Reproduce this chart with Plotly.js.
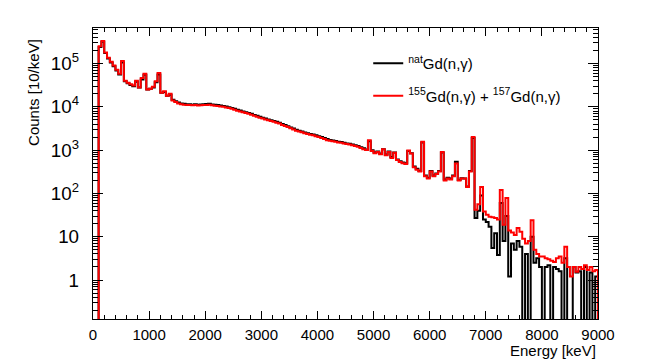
<!DOCTYPE html>
<html>
<head>
<meta charset="utf-8">
<script src="https://cdn.plot.ly/plotly-3.0.1.min.js"></script>
<style>
  html, body { margin: 0; padding: 0; background: #fff; }
  #chart { width: 664px; height: 363px; }
</style>
</head>
<body>
<div id="chart"></div>
<script>
// 50 keV bins starting at 0 keV, counts (0 = empty bin)
const binStart = 0
const binWidth = 50

const natGd = [
  0, 0, 2.4e5, 3.2e5, 1.75e5, 1.3e5, 1.05e5, 8.6e4, 6.9e4, 5.6e4,
  1.05e5, 3.9e4, 3.5e4, 3.2e4, 3.0e4, 3.8e4, 2.8e4, 4.3e4, 5.5e4, 2.5e4,
  2.6e4, 2.8e4, 3.7e4, 5.6e4, 2.1e4, 2.2e4, 1.8e4, 1.9e4, 1.45e4, 1.35e4,
  1.25e4, 1.2e4, 1.17e4, 1.15e4, 1.14e4, 1.12e4, 1.14e4, 1.12e4, 1.13e4, 1.15e4,
  1.16e4, 1.17e4, 1.13e4, 1.11e4, 1.1e4, 1.07e4, 1.05e4, 1.02e4, 9.8e3, 9.4e3,
  9.0e3, 8.5e3, 8.2e3, 7.8e3, 7.5e3, 7.2e3, 6.9e3, 6.5e3, 6.2e3, 5.9e3,
  5.6e3, 5.35e3, 5.1e3, 4.9e3, 4.7e3, 4.5e3, 4.3e3, 4.0e3, 3.8e3, 3.55e3,
  3.35e3, 3.15e3, 2.95e3, 2.8e3, 2.7e3, 2.55e3, 2.45e3, 2.35e3, 2.3e3, 2.2e3,
  2.1e3, 2.0e3, 1.9e3, 1.8e3, 1.72e3, 1.67e3, 1.62e3, 1.57e3, 1.53e3, 1.48e3,
  1.43e3, 1.4e3, 1.35e3, 1.3e3, 1.25e3, 1.17e3, 1.1e3, 1.04e3, 1.6e3, 990,
  880, 930, 830, 1050, 790, 930, 690, 880, 610, 550,
  520, 500, 960, 850, 420, 370, 330, 1500, 260, 230,
  330, 260, 290, 330, 880, 210, 230, 220, 260, 540,
  205, 225, 220, 145, 330, 1900, 27, 40, 90, 25,
  22, 17, 5.5, 12, 3.8, 60, 8, 30, 1.2, 7,
  5, 8, 5.9, 0, 4, 0, 10, 2.5, 3.2, 2,
  0, 2, 2.2, 0, 2, 1.8, 1.6, 0, 3.2, 0,
  0, 2, 1.5, 1.6, 0, 2, 0, 1.5, 0, 1.2,
  0
]

const gd155157 = [
  0, 0, 2.5e5, 3.3e5, 1.8e5, 1.35e5, 1.1e5, 9.0e4, 7.2e4, 5.8e4,
  1.15e5, 4.0e4, 3.6e4, 3.3e4, 3.1e4, 4.0e4, 2.8e4, 4.6e4, 5.8e4, 2.5e4,
  2.6e4, 2.9e4, 3.9e4, 6.0e4, 2.1e4, 2.3e4, 1.8e4, 2.0e4, 1.4e4, 1.3e4,
  1.2e4, 1.15e4, 1.12e4, 1.1e4, 1.1e4, 1.08e4, 1.1e4, 1.07e4, 1.08e4, 1.1e4,
  1.1e4, 1.12e4, 1.08e4, 1.06e4, 1.05e4, 1.02e4, 1.0e4, 9.7e3, 9.4e3, 9.0e3,
  8.6e3, 8.1e3, 7.8e3, 7.5e3, 7.2e3, 6.9e3, 6.6e3, 6.2e3, 5.9e3, 5.6e3,
  5.4e3, 5.1e3, 4.9e3, 4.7e3, 4.5e3, 4.3e3, 4.1e3, 3.8e3, 3.6e3, 3.4e3,
  3.2e3, 3.0e3, 2.8e3, 2.7e3, 2.6e3, 2.45e3, 2.35e3, 2.25e3, 2.2e3, 2.1e3,
  2.0e3, 1.9e3, 1.8e3, 1.7e3, 1.65e3, 1.6e3, 1.55e3, 1.5e3, 1.48e3, 1.42e3,
  1.38e3, 1.35e3, 1.3e3, 1.25e3, 1.2e3, 1.12e3, 1.05e3, 1.0e3, 1.7e3, 950,
  850, 900, 800, 1050, 760, 910, 660, 870, 590, 530,
  500, 480, 980, 830, 400, 350, 320, 1550, 250, 220,
  320, 250, 280, 320, 910, 200, 220, 210, 250, 490,
  200, 220, 220, 140, 320, 2000, 42, 56, 140, 38,
  32, 29, 28, 27, 25, 120, 19, 78, 14, 12.5,
  11, 16, 13, 9, 7, 8, 24, 5, 4, 3.5,
  3.5, 3.2, 3.0, 2.8, 2.6, 3.2, 3.5, 2.5, 5.9, 2,
  1.2, 2, 1.55, 2, 1.8, 2.2, 1.7, 2, 1.6, 1.7,
  0
]

const names = ['<sup>nat</sup>Gd(n,γ)', '<sup>155</sup>Gd(n,γ) + <sup>157</sup>Gd(n,γ)']
const colors = ['#000000', '#ff0000']

// empty bins drop below the log axis, like ROOT draws them
const floor = v => (v > 0 ? v : 1e-3)

const font = 'Liberation Sans, Arial, Helvetica, sans-serif'

const traces = [natGd, gd155157].map((ys, i) => ({
  x0: binStart + binWidth / 2,
  dx: binWidth,
  y: ys.map(floor),
  type: 'scatter',
  mode: 'lines',
  name: names[i],
  legendgroup: 'g' + i,
  line: { color: colors[i], width: 2, shape: 'hvh' }
}))

const layout = {
  width: 664,
  height: 363,
  margin: { l: 93, r: 66, t: 28, b: 44 },
  paper_bgcolor: '#fff',
  plot_bgcolor: '#fff',
  font: { family: font, size: 15, color: '#000' },
  showlegend: true,
  legend: {
    x: 0.545, y: 0.935, xanchor: 'left', yanchor: 'top',
    bgcolor: 'rgba(0,0,0,0)',
    font: { family: font, size: 15 },
    tracegroupgap: 10
  },
  xaxis: {
    range: [0, 9000],
    dtick: 1000,
    tick0: 0,
    ticks: 'inside',
    ticklen: 8,
    tickcolor: '#000',
    minor: { dtick: 200, ticks: 'inside', ticklen: 4, tickcolor: '#000', showgrid: false },
    showline: true,
    linecolor: '#000',
    linewidth: 1,
    mirror: 'ticks',
    showgrid: false,
    zeroline: false,
    ticklabelstandoff: 2,
    tickfont: { family: font, size: 15 }
  },
  yaxis: {
    type: 'log',
    range: [-0.9, 5.82],
    dtick: 1,
    exponentformat: 'power',
    ticks: 'inside',
    ticklen: 10,
    tickcolor: '#000',
    minor: { dtick: 'D1', ticks: 'inside', ticklen: 5, tickcolor: '#000', showgrid: false },
    showline: true,
    linecolor: '#000',
    linewidth: 1,
    mirror: 'ticks',
    showgrid: false,
    zeroline: false,
    ticklabelstandoff: 10,
    tickfont: { family: font, size: 15 }
  },
  annotations: [
    {
      text: 'Energy [keV]', xref: 'paper', yref: 'paper',
      x: 1, y: -0.108, xanchor: 'right', yanchor: 'middle',
      showarrow: false, font: { family: font, size: 15 }
    },
    {
      text: 'Counts [10/keV]', xref: 'paper', yref: 'paper',
      x: -0.119, y: 0.78, xanchor: 'center', yanchor: 'middle',
      textangle: -90, showarrow: false, font: { family: font, size: 15 }
    }
  ]
}

Plotly.newPlot('chart', traces, layout, { displayModeBar: false, staticPlot: true })
</script>
</body>
</html>
